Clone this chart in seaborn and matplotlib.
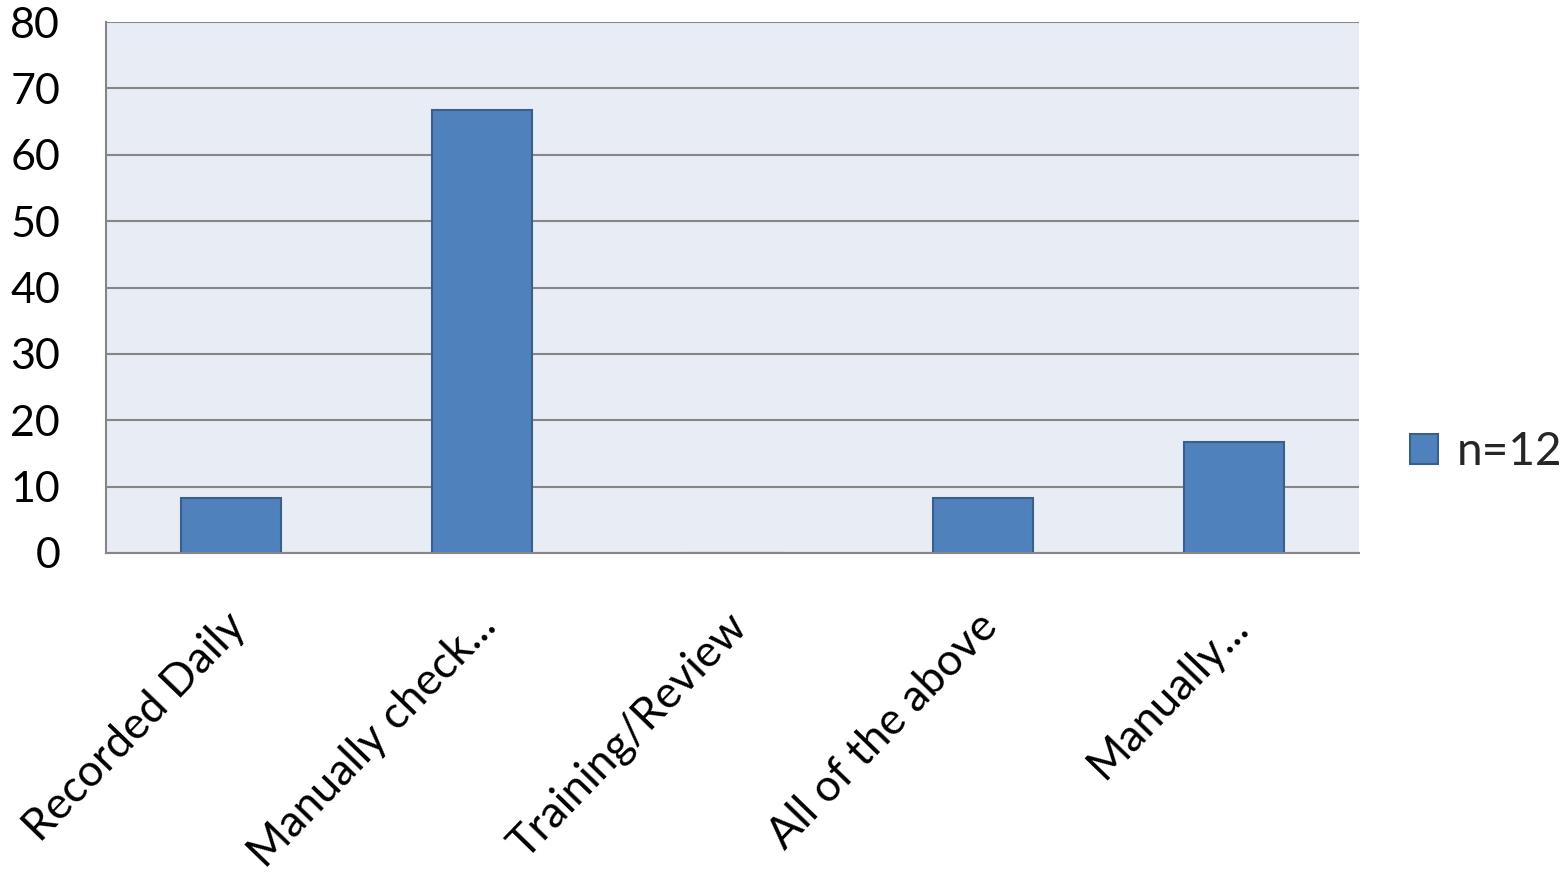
import matplotlib
matplotlib.use("Agg")
import matplotlib.pyplot as plt
import matplotlib.transforms as mtransforms
from matplotlib.patches import Patch
import seaborn as sns
import pandas as pd

categories = ["Recorded Daily", "Manually check...", "Training/Review", "All of the above", "Manually..."]
values = [8.33, 66.67, 0, 8.33, 16.67]
series_label = "n=12"
yticks = [0, 10, 20, 30, 40, 50, 60, 70, 80]

sns.set_theme(style="white")
plt.rcParams['font.family'] = ['Lato', 'DejaVu Sans']

fig = plt.figure(figsize=(15.61, 8.73), dpi=100)
ax = fig.add_axes([106/1561, 1-553/873, (1359-106)/1561, (553-22)/873])

df = pd.DataFrame({"cat": categories, "val": values})
sns.barplot(data=df, x="cat", y="val", color="#4F81BD", saturation=1, width=0.4,
            edgecolor="#3A5F8B", linewidth=1.5, ax=ax)

ax.set_facecolor("#E8ECF4")
ax.set_ylim(0, 80)
ax.set_xlim(-0.5, len(categories)-0.5)
ax.set_yticks(yticks)
ax.yaxis.grid(True, color="#868686", linewidth=1.5)
ax.set_axisbelow(True)
ax.set_xlabel("")
ax.set_ylabel("")
for s in ["top", "right"]:
    ax.spines[s].set_visible(False)
for s in ["left", "bottom"]:
    ax.spines[s].set_color("#868686")
    ax.spines[s].set_linewidth(1.5)
ax.tick_params(axis="y", length=0, pad=33, labelsize=31, labelcolor="black")
ax.tick_params(axis="x", length=0, pad=48, labelsize=32, labelcolor="black")
ax.set_xticks(range(len(categories)))
ax.set_xticklabels(categories, rotation=46, ha="right", va="center", rotation_mode="anchor")
offset = mtransforms.ScaledTranslation(8/100, 0, fig.dpi_scale_trans)
for lbl in ax.get_xticklabels():
    lbl.set_transform(lbl.get_transform() + offset)

handle = Patch(facecolor="#4F81BD", edgecolor="#3A5F8B", linewidth=1.5)
fig.legend([handle], [series_label], loc="center left", bbox_to_anchor=(0.9032, 1-452/873),
           frameon=False, fontsize=33, handlelength=0.62, handleheight=0.62, handletextpad=0.4,
           borderpad=0, borderaxespad=0)

fig.savefig("out.png", dpi=100)
